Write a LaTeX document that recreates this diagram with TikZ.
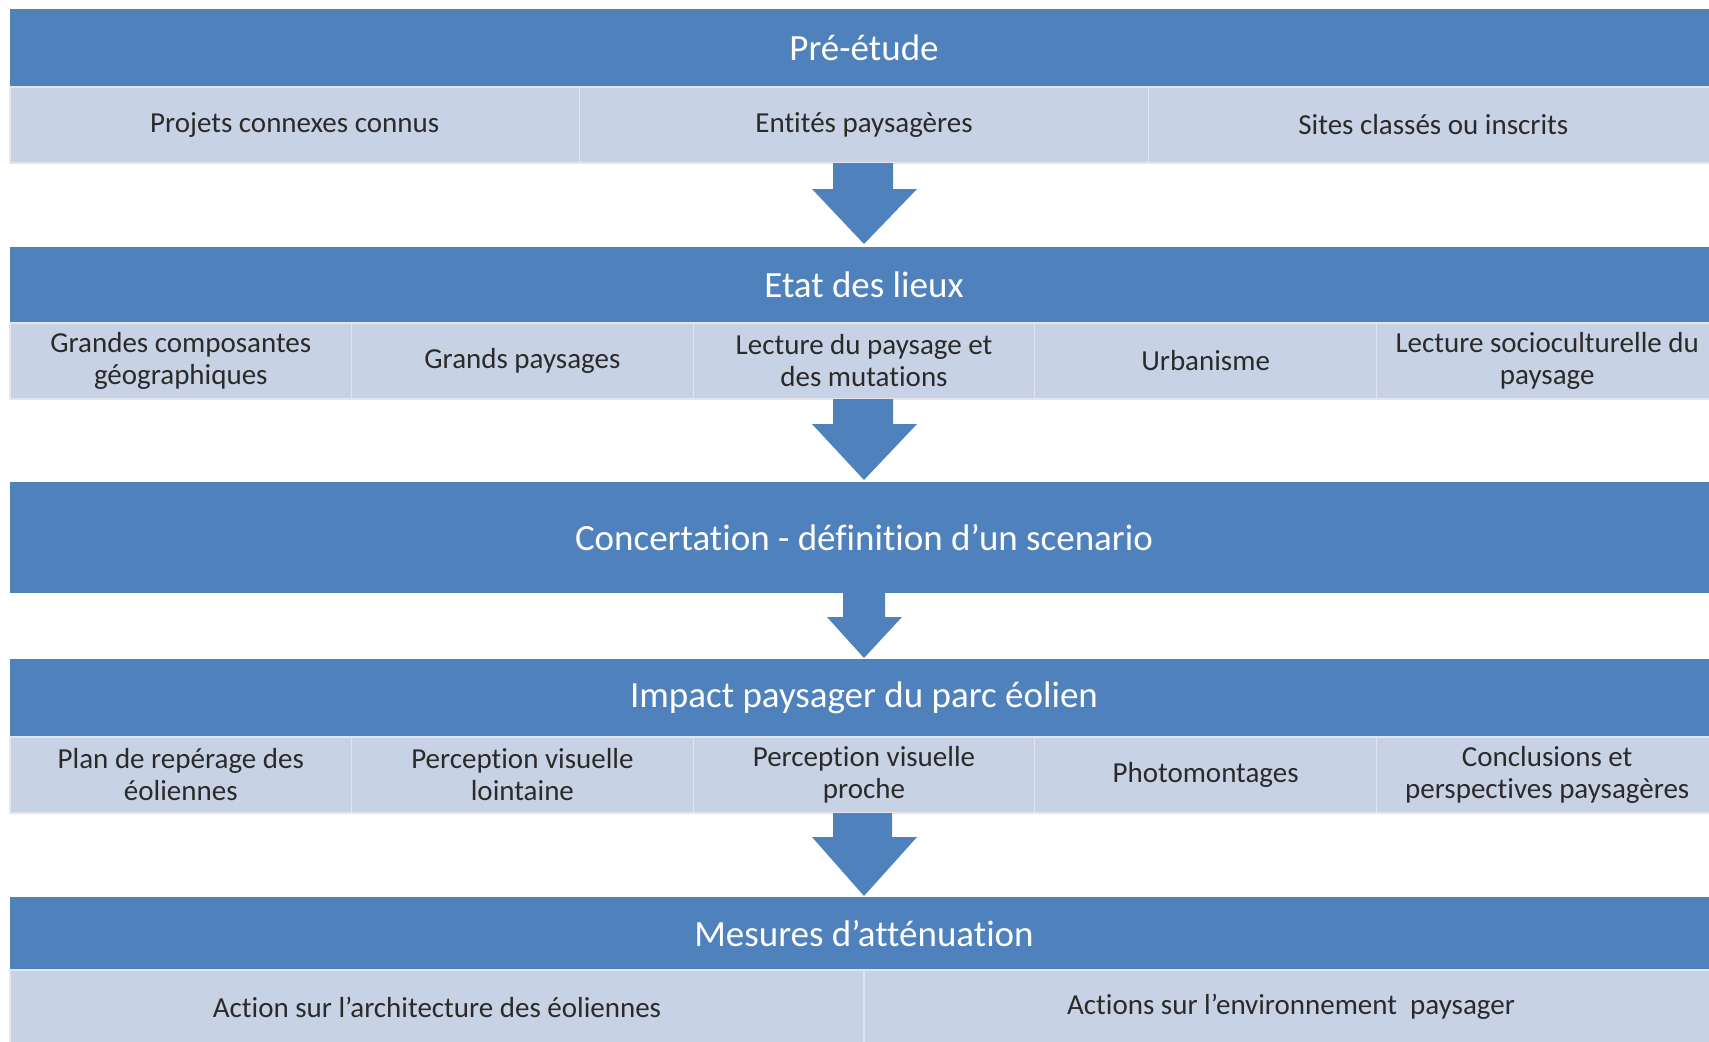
\documentclass[tikz,border=0pt]{standalone}
\usepackage{fontspec}
\setmainfont{Carlito}[Ligatures=NoCommon]
\usetikzlibrary{calc}
\definecolor{hblue}{HTML}{4F81BD}
\definecolor{lblue}{HTML}{C8D2E5}
\definecolor{txt}{HTML}{2A2A2A}
\tikzset{
  hdr/.style={fill=hblue, text=white, inner sep=0pt, outer sep=0pt,
    minimum width=1708pt, minimum height=#1, font=\fontsize{37}{40}\selectfont},
  cell/.style={fill=lblue, draw=white!45!lblue, line width=1.2pt, text=txt,
    inner sep=0pt, outer sep=0pt, minimum width=#1, minimum height=76pt,
    align=center, font=\fontsize{29}{32}\selectfont},
  arr/.style={fill=hblue}
}
\begin{document}
\begin{tikzpicture}[x=1pt,y=-1pt]
\useasboundingbox (0,0) rectangle (1709,1042);
% Band 1
\node[hdr=78pt] (h1) at (864,48) {Pré-étude};
\node[cell=569.33pt] (s1a) at (294.67,125) {Projets connexes connus};
\node[cell=569.33pt] (s1b) at (864,125) {Entités paysagères};
\node[cell=569.33pt] (s1c) at (1433.33,125) {Sites classés ou inscrits};
% Band 2
\node[hdr=76pt] (h2) at (864,285) {Etat des lieux};
\node[cell=341.6pt] (s2a) at (180.8,361) {Grandes composantes\\géographiques};
\node[cell=341.6pt] (s2b) at (522.4,361) {Grands paysages};
\node[cell=341.6pt] (s2c) at (864,361) {Lecture du paysage et\\des mutations};
\node[cell=341.6pt] (s2d) at (1205.6,361) {Urbanisme};
\node[cell=341.6pt] (s2e) at (1547.2,361) {Lecture socioculturelle du\\paysage};
% Band 3
\node[hdr=111pt] (h3) at (864,537.5) {Concertation - définition d’un scenario};
% Band 4
\node[hdr=78pt] (h4) at (864,698) {Impact paysager du parc éolien};
\node[cell=341.6pt] (s4a) at (180.8,775) {Plan de repérage des\\éoliennes};
\node[cell=341.6pt] (s4b) at (522.4,775) {Perception visuelle\\lointaine};
\node[cell=341.6pt] (s4c) at (864,775) {Perception visuelle\\proche};
\node[cell=341.6pt] (s4d) at (1205.6,775) {Photomontages};
\node[cell=341.6pt] (s4e) at (1547.2,775) {Conclusions et\\perspectives paysagères};
% Band 5
\node[hdr=73pt] (h5) at (864,933.5) {Mesures d’atténuation};
\node[cell=854pt, minimum height=74pt] (s5a) at (437,1007) {Action sur l’architecture des éoliennes};
\node[cell=854pt, minimum height=74pt] (s5b) at (1291,1007) {Actions sur l’environnement\ \ paysager};
% Arrows
\fill[arr] ($(s1b.south)+(-31,0)$) -- ($(s1b.south)+(29,0)$) -- ($(s1b.south)+(29,26)$)
  -- ($(s1b.south)+(53,26)$) -- ($(h2.north)+(0,-3)$) -- ($(s1b.south)+(-52,26)$)
  -- ($(s1b.south)+(-31,26)$) -- cycle;
\fill[arr] ($(s2c.south)+(-31,0)$) -- ($(s2c.south)+(29,0)$) -- ($(s2c.south)+(29,25)$)
  -- ($(s2c.south)+(53,25)$) -- ($(h3.north)+(0,-2)$) -- ($(s2c.south)+(-52,25)$)
  -- ($(s2c.south)+(-31,25)$) -- cycle;
\fill[arr] ($(h3.south)+(-21,-2)$) -- ($(h3.south)+(21,-2)$) -- ($(h3.south)+(21,24)$)
  -- ($(h3.south)+(38,24)$) -- ($(h4.north)+(0,-1)$) -- ($(h3.south)+(-37,24)$)
  -- ($(h3.south)+(-21,24)$) -- cycle;
\fill[arr] ($(s4c.south)+(-31,0)$) -- ($(s4c.south)+(28,0)$) -- ($(s4c.south)+(28,24)$)
  -- ($(s4c.south)+(53,24)$) -- ($(h5.north)+(0,-1)$) -- ($(s4c.south)+(-52,24)$)
  -- ($(s4c.south)+(-31,24)$) -- cycle;
\end{tikzpicture}
\end{document}
